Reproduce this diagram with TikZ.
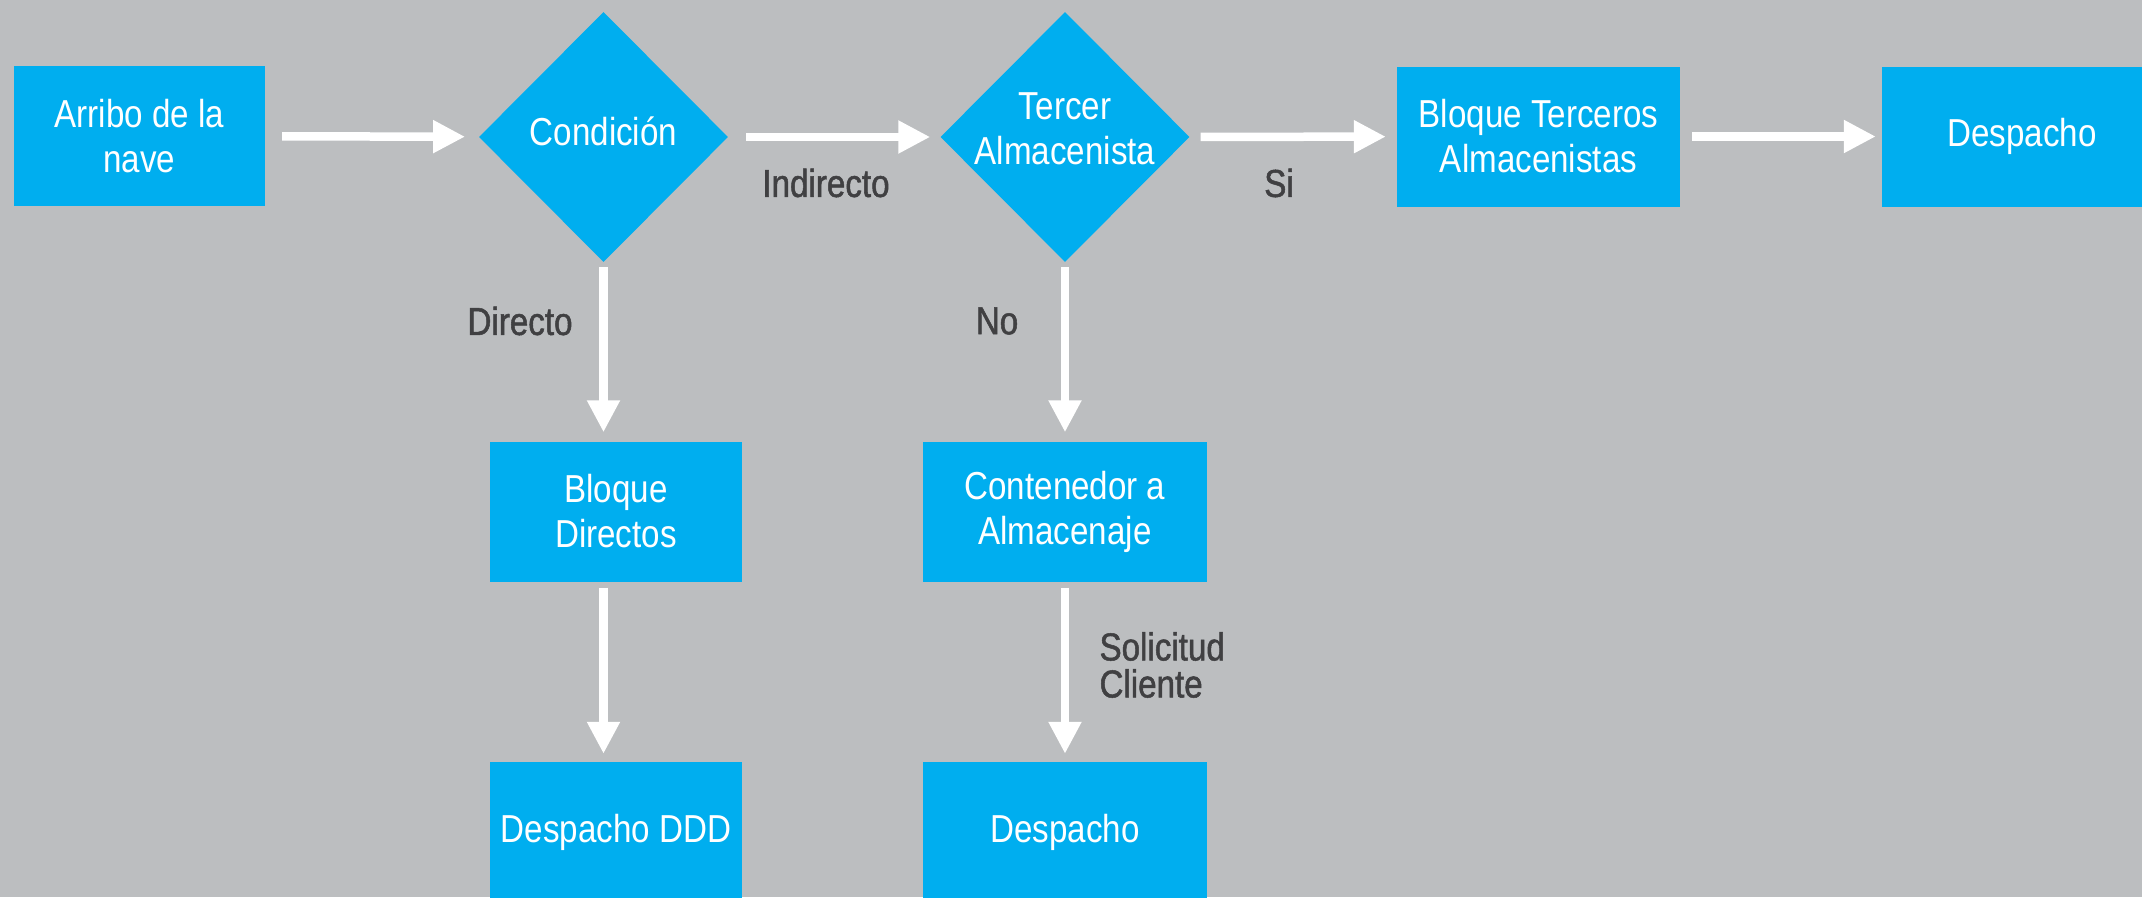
\documentclass[tikz,border=0pt]{standalone}
\usepackage{fontspec}
\setmainfont{Liberation Sans}[FakeStretch=0.85]
\newfontfamily\medio{Liberation Sans}[FakeStretch=0.85, FakeBold=1.3]
\usepackage{tikz}
\usetikzlibrary{shapes.geometric,arrows.meta}

\definecolor{fondo}{HTML}{BCBEC0}
\definecolor{azul}{HTML}{00AEEF}
\definecolor{gris}{HTML}{404042}

\tikzset{
  caja/.style={fill=azul, text=white, align=center, inner sep=0pt,
    minimum height=140pt, font=\fontsize{39}{45}\selectfont},
  rombo/.style={diamond, fill=azul, inner sep=0pt,
    minimum width=249pt, minimum height=250pt},
  texto/.style={text=white, align=center, font=\fontsize{39}{45}\selectfont},
  etiqueta/.style={text=gris, align=left, font=\medio\fontsize{39}{37}\selectfont},
  flecha/.style={draw=white, line width=8.5pt,
    -{Triangle[length=32pt,width=31pt]}, shorten <=12pt, shorten >=10pt}
}

\begin{document}
\begin{tikzpicture}[x=1pt, y=-1pt]
        % Fondo
        \fill[fondo] (0,0) rectangle (2142,897);
        \useasboundingbox (0,0) rectangle (2142,897);

        % Fila superior
        \node[caja, minimum width=251pt] (arribo) at (139.5,136) {Arribo de la\\nave};
        \node[rombo, label={[texto, yshift=6pt]center:Condición}] (cond) at (603.5,137) {};
        \node[rombo, label={[texto, yshift=8pt]center:Tercer\\Almacenista}] (tercer) at (1065,137) {};
        \node[caja, minimum width=283pt, yshift=0pt] (bterc) at (1538.5,136.5) {Bloque Terceros\\Almacenistas};
        \node[caja, minimum width=280pt] (desp) at (2022,136.5) {Despacho};

        % Columnas
        \node[caja, minimum width=252pt] (bdir) at (616,511.5) {Bloque\\Directos};
        \node[caja, minimum width=252pt] (ddd) at (616,832) {Despacho DDD};
        \node[caja, minimum width=284pt] (cont) at (1065,511.5) {Contenedor a\\Almacenaje};
        \node[caja, minimum width=284pt] (desp2) at (1065,832) {Despacho};

        % Flechas horizontales
        \draw[flecha, shorten <=17pt, shorten >=14pt] (arribo) -- (cond);
        \draw[flecha, shorten <=18pt] (cond) -- (tercer);
        \draw[flecha, shorten <=11pt, shorten >=11pt] (tercer) -- (bterc);
        \draw[flecha, shorten >=6pt] (bterc) -- (desp);

        % Flechas verticales
        \draw[flecha, shorten <=5pt, shorten >=9pt] (cond.south) -- (cond.south |- bdir.north);
        \draw[flecha, shorten <=6pt, shorten >=8pt] (bdir.south -| cond.south) -- (ddd.north -| cond.south);
        \draw[flecha, shorten <=5pt, shorten >=9pt] (tercer.south) -- (cont.north);
        \draw[flecha, shorten <=6pt, shorten >=8pt] (cont.south) -- (desp2.north);

        % Etiquetas
        \node[etiqueta] (indirecto) at (826,183) {Indirecto};
        \node[etiqueta] (si) at (1279,183) {Si};
        \node[etiqueta] (directo) at (520,321) {Directo};
        \node[etiqueta] (no) at (997,321) {No};
        \node[etiqueta, anchor=west] (solicitud) at (1096,665) {Solicitud\\Cliente};
\end{tikzpicture}
\end{document}
